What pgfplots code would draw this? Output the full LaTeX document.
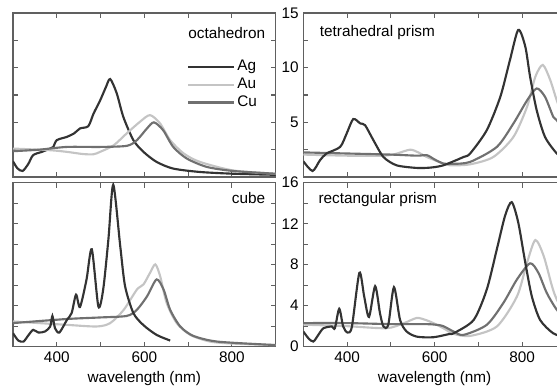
\documentclass[border=0pt]{standalone}
\usepackage{fontspec}
\setmainfont{Liberation Sans}
\usepackage{pgfplots}
\pgfplotsset{compat=1.18}
\definecolor{agc}{HTML}{333333}
\definecolor{auc}{HTML}{C4C4C4}
\definecolor{cuc}{HTML}{707070}
\definecolor{framec}{HTML}{606060}
\newcommand{\lbl}{\fontsize{11.5}{13}\selectfont}
\pgfplotsset{
  panel/.style={
    scale only axis, width=197pt, height=123pt,
    xmin=300, xmax=900,
    xtick={400,600,800}, minor xtick={300,500,700,900},
    tick align=inside,
    major tick length=3.75pt, minor tick length=3.75pt,
    axis line style={color=framec, line width=0.8pt},
    every tick/.style={color=framec, line width=0.8pt},
    /pgf/number format/assume math mode=true,
    tick label style={font=\lbl},
    label style={font=\lbl},
    every axis plot/.append style={line width=1.6pt, smooth, tension=0.45, no markers},
    clip=true,
  },
  toppanel/.style={panel, ymin=0, ymax=15, ytick={5,10,15}, minor ytick={2.5,7.5,12.5}, xticklabels={}},
  botpanel/.style={panel, ymin=0, ymax=16, ytick={0,4,8,12,16}, minor ytick={2,6,10,14}, xlabel={wavelength (nm)}},
}
\begin{document}
\begin{tikzpicture}
% top-left: octahedron
\begin{axis}[toppanel, at={(9.75pt,157.5pt)}, anchor=south west, yticklabels={},
  legend style={draw=none, fill=none, at={(0.955,0.745)}, anchor=north east, font=\lbl, row sep=0pt},
  legend cell align=left,
  legend image code/.code={\draw[#1, line width=1.6pt] (0pt,0pt) -- (34pt,0pt);}]
\addplot[agc] coordinates {(300,1.44)(310,0.8)(322,0.55)(335,1.2)(346,2.0)(366,2.3)(385,2.6)(392,2.75)(400,3.37)(423,3.67)(440,4.0)(453,4.44)(472,4.65)(484,5.8)(499,7.0)(512,8.2)(522,8.96)(537,7.65)(552,5.5)(575,3.37)(598,2.3)(628,1.38)(666,0.77)(727,0.46)(803,0.3)(900,0.2)};
\addlegendentry{Ag}
\addplot[auc] coordinates {(300,2.6)(385,2.45)(423,2.3)(460,2.1)(484,2.08)(499,2.3)(530,2.9)(560,4.0)(590,5.05)(613,5.66)(636,4.9)(659,3.37)(690,2.15)(727,1.38)(803,0.6)(900,0.3)};
\addlegendentry{Au}
\addplot[cuc] coordinates {(300,2.36)(360,2.5)(423,2.75)(499,2.75)(560,2.85)(583,3.37)(606,4.44)(622,5.0)(643,4.28)(666,2.75)(697,1.69)(743,0.92)(803,0.55)(900,0.3)};
\addlegendentry{Cu}
\node[anchor=east, font=\lbl] at (rel axis cs:0.978,0.878) {octahedron};
\end{axis}
% top-right: tetrahedral prism
\begin{axis}[toppanel, at={(227.5pt,157.5pt)}, anchor=south west]
\addplot[auc] coordinates {(300,2.05)(400,1.95)(480,1.95)(510,2.1)(544,2.5)(565,2.2)(582,1.83)(620,1.23)(635,1.07)(681,1.16)(734,1.83)(780,3.67)(811,6.42)(830,9.17)(847,10.25)(864,8.87)(879,7.0)(900,4.8)};
\addplot[cuc] coordinates {(300,2.25)(400,2.15)(500,2.05)(560,1.95)(582,2.0)(600,1.6)(620,1.23)(640,1.2)(681,1.38)(742,2.75)(780,4.9)(811,7.0)(833,8.1)(852,7.34)(871,5.5)(879,5.2)(900,3.8)};
\addplot[agc] coordinates {(300,1.44)(321,0.55)(338,1.53)(353,2.15)(384,2.75)(399,3.98)(414,5.3)(430,4.9)(441,4.74)(460,3.37)(483,1.83)(513,1.07)(559,0.83)(590,0.86)(620,1.07)(666,1.83)(681,2.15)(719,4.28)(750,7.34)(772,10.7)(791,13.46)(807,11.93)(818,9.17)(833,6.12)(852,3.67)(879,2.15)(900,1.5)};
\node[anchor=west, font=\lbl] at (rel axis cs:0.045,0.878) {tetrahedral prism};
\end{axis}
% bottom-left: cube
\begin{axis}[botpanel, at={(9.75pt,30.25pt)}, anchor=south west, yticklabels={}]
\addplot[auc] coordinates {(300,2.46)(360,2.3)(423,2.13)(491,1.97)(522,2.3)(553,3.6)(583,5.57)(598,6.07)(613,7.2)(625,8.03)(636,6.9)(651,4.27)(674,2.3)(705,1.15)(750,0.5)(803,0.3)(900,0.15)};
\addplot[cuc] coordinates {(300,2.3)(423,2.7)(499,2.85)(560,3.0)(583,3.6)(606,4.9)(628,6.56)(644,5.57)(659,3.6)(682,1.97)(712,1.05)(766,0.5)(880,0.2)(900,0.18)};
\addplot[agc] coordinates {(300,1.32)(312,0.6)(324,0.5)(335,1.1)(346,1.64)(358,1.38)(373,1.48)(385,1.97)(390,3.0)(396,1.8)(406,1.38)(423,2.6)(434,3.28)(444,5.08)(453,3.87)(468,6.56)(480,9.5)(495,3.93)(506,5.57)(518,10.5)(529,15.8)(545,9.8)(556,5.9)(575,3.28)(598,2.1)(628,1.15)(659,0.6)};
\node[anchor=east, font=\lbl] at (rel axis cs:0.978,0.905) {cube};
\end{axis}
% bottom-right: rectangular prism
\begin{axis}[botpanel, at={(227.5pt,30.25pt)}, anchor=south west]
\addplot[auc] coordinates {(300,2.15)(400,2.0)(490,1.8)(530,2.3)(559,2.8)(580,2.6)(597,2.3)(620,1.8)(643,1.25)(681,1.05)(742,1.97)(788,4.9)(811,8.2)(830,10.4)(849,8.85)(868,5.9)(879,4.6)(900,3.0)};
\addplot[cuc] coordinates {(300,2.3)(400,2.3)(500,2.2)(580,2.2)(605,2.13)(620,2.0)(643,1.48)(666,1.15)(719,2.13)(757,4.27)(788,6.56)(818,8.13)(837,7.2)(856,5.25)(879,3.6)(900,2.8)};
\addplot[agc] coordinates {(300,1.48)(312,0.8)(323,0.5)(335,1.2)(346,1.8)(365,1.97)(372,1.8)(382,3.7)(391,1.97)(401,1.38)(411,1.97)(428,7.2)(439,4.9)(450,2.9)(464,5.9)(475,3.28)(483,1.97)(494,2.13)(507,5.8)(521,2.6)(536,1.48)(559,0.98)(597,0.92)(635,1.25)(643,1.3)(689,2.6)(719,5.57)(742,9.5)(761,12.8)(776,14.1)(791,12.1)(807,8.2)(822,4.9)(841,2.6)(871,1.3)(900,0.9)};
\node[anchor=west, font=\lbl] at (rel axis cs:0.04,0.9) {rectangular prism};
\end{axis}
\pgfresetboundingbox
\path[use as bounding box] (0pt,0pt) rectangle (417.75pt,290.25pt);
\end{tikzpicture}
\end{document}
